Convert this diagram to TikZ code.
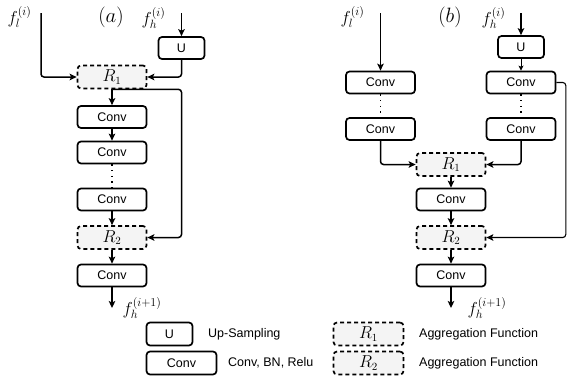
\documentclass[tikz,border=0pt]{standalone}
\usepackage{fontspec}
\setsansfont{Liberation Sans}
\usetikzlibrary{arrows.meta}
\begin{document}
\begin{tikzpicture}[x=1pt,y=-1pt]
\tikzset{
 box/.style={draw, line width=1.7pt, rounded corners=3.5pt, minimum height=22pt, inner sep=0pt, font=\sffamily\fontsize{12.5}{14}\selectfont},
 convbox/.style={box, minimum width=69pt},
 upbox/.style={box, minimum width=46pt},
 aggbox/.style={draw, line width=1.7pt, dash pattern=on 4pt off 3pt, rounded corners=3.5pt, fill=gray!9, minimum width=69pt, minimum height=23pt, inner sep=0pt, font=\fontsize{16}{18}\selectfont},
 conn/.style={line width=1.5pt, rounded corners=3pt},
 arr/.style={conn, -{Stealth[length=7pt,width=6.5pt,inset=1.5pt]}},
 thinarr/.style={line width=0.9pt, -{Stealth[length=5pt,width=5pt,inset=1pt]}},
 thinconn/.style={line width=1.1pt, rounded corners=3pt, -{Stealth[length=7pt,width=6.5pt,inset=1.5pt]}},
 lbl/.style={inner sep=0pt, font=\fontsize{18.5}{21}\selectfont},
 plbl/.style={inner sep=0pt, font=\fontsize{20}{23}\selectfont},
 dotsline/.style={line width=1.2pt, dash pattern=on 1.2pt off 4.5pt},
 legtext/.style={anchor=west, inner sep=0pt, font=\sffamily\fontsize{12.5}{14}\selectfont}
}
\useasboundingbox (0,0) rectangle (567,381);
% ---------------- panel (a)
\node[lbl] (fla) at (19.5,17) {$f_l^{(i)}$};
\node[plbl] (pa) at (111,17) {$(a)$};
\node[lbl] (fha) at (153.5,18) {$f_h^{(i)}$};
\coordinate (flastart) at (41,13);
\coordinate (fhastart) at (181.5,13);
\node[upbox] (Ua) at (181.5,48) {U};
\node[aggbox] (Ra1) at (112,77) {$R_1$};
\node[convbox] (Ca1) at (112,117) {Conv};
\node[convbox] (Ca2) at (112,152.5) {Conv};
\node[convbox] (Ca3) at (112,199.5) {Conv};
\node[aggbox] (Ra2) at (112,237.5) {$R_2$};
\node[convbox] (Ca4) at (112,275.5) {Conv};
\coordinate (outa) at (112,308);
\node[lbl] (fhoa) at (142,308) {$f_h^{(i+1)}$};
\draw[arr] (flastart) |- (Ra1.west);
\draw[arr] (fhastart) -- (Ua.north);
\draw[arr] (Ua.south) |- (Ra1.east);
\draw[arr] (Ra1.south) -- (Ca1.north);
\draw[arr] (Ra1.south) -- (Ra1.south -| Ua.south) |- (Ra2.east);
\draw[arr] (Ca1.south) -- (Ca2.north);
\draw[dotsline] (Ca2.south) -- (Ca3.north);
\draw[arr] (Ca3.south) -- (Ra2.north);
\draw[arr] (Ra2.south) -- (Ca4.north);
\draw[arr] (Ca4.south) -- (outa);
% ---------------- panel (b)
\node[lbl] (flb) at (352.5,17) {$f_l^{(i)}$};
\node[plbl] (pb) at (450,17) {$(b)$};
\node[lbl] (fhb) at (493.5,18) {$f_h^{(i)}$};
\coordinate (flbstart) at (380.5,13);
\coordinate (fhbstart) at (521,13);
\node[upbox] (Ub) at (521,47) {U};
\node[convbox] (CL1) at (380.5,82.5) {Conv};
\node[convbox] (CL2) at (380.5,129) {Conv};
\node[convbox] (CR1) at (521,82.5) {Conv};
\node[convbox] (CR2) at (521,129) {Conv};
\node[aggbox] (Rb1) at (451,164.5) {$R_1$};
\node[convbox] (Cb1) at (451,199.5) {Conv};
\node[aggbox] (Rb2) at (451,237.5) {$R_2$};
\node[convbox] (Cb2) at (451,275.5) {Conv};
\coordinate (outb) at (451,308);
\coordinate (rtb) at (565.8,237.5);
\node[lbl] (fhob) at (487,308) {$f_h^{(i+1)}$};
\draw[arr] (flbstart) -- (CL1.north);
\draw[arr] (fhbstart) -- (Ub.north);
\draw[thinarr] (Ub.south) -- (CR1.north);
\draw[dotsline] (CL1.south) -- (CL2.north);
\draw[dotsline] (CR1.south) -- (CR2.north);
\draw[arr] (CL2.south) |- (Rb1.west);
\draw[arr] (CR2.south) |- (Rb1.east);
\draw[thinconn] (CR1.east) -| (rtb) -- (Rb2.east);
\draw[arr] (Rb1.south) -- (Cb1.north);
\draw[arr] (Cb1.south) -- (Rb2.north);
\draw[arr] (Rb2.south) -- (Cb2.north);
\draw[arr] (Cb2.south) -- (outb);
% ---------------- legend
\node[upbox, minimum height=23pt] (LU) at (169.5,334) {U};
\node[legtext] (LUt) at (208,334) {Up-Sampling};
\node[convbox, minimum width=70pt, minimum height=23pt] (LC) at (181.5,363) {Conv};
\node[legtext] (LCt) at (228,363) {Conv, BN, Relu};
\node[aggbox, minimum width=70pt, minimum height=23pt] (LR1) at (368.5,334) {$R_1$};
\node[legtext] (LR1t) at (419,334) {Aggregation Function};
\node[aggbox, minimum width=70pt, minimum height=23pt] (LR2) at (368.5,363) {$R_2$};
\node[legtext] (LR2t) at (419,363) {Aggregation Function};
\end{tikzpicture}
\end{document}
